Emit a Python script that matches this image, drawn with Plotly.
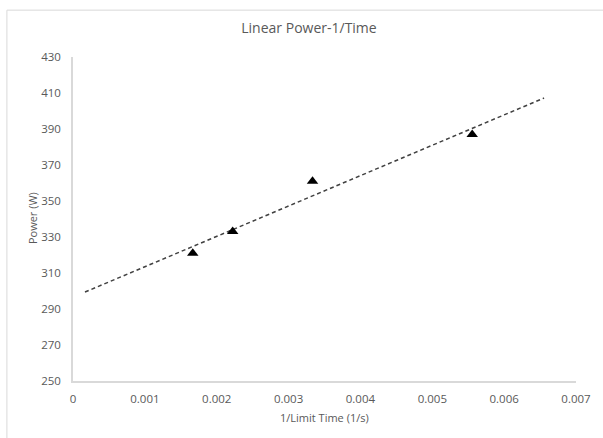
import numpy as np
import plotly.graph_objects as go

# Reciprocal limit time (1/s) and sustained power (W)
inv_time = [1 / 600, 1 / 450, 1 / 300, 1 / 180]
power = [321, 333, 361, 387]

# Linear trendline, extended 0.0015 backward and 0.001 forward
slope, intercept = np.polyfit(inv_time, power, 1)
trend_x = [min(inv_time) - 0.0015, max(inv_time) + 0.001]
trend_y = [slope * x + intercept for x in trend_x]

y_ticks = [250, 270, 290, 310, 330, 350, 370, 390, 410, 430]
x_ticks = [0, 0.001, 0.002, 0.003, 0.004, 0.005, 0.006, 0.007]
x_tick_text = ["0", "0.001", "0.002", "0.003", "0.004", "0.005", "0.006", "0.007"]

FONT = "Open Sans"
GREY = "#595959"

fig = go.Figure()
fig.add_trace(go.Scatter(
    x=trend_x, y=trend_y, mode="lines",
    line=dict(color="#404040", width=1.5, dash="4px,3px"),
    hoverinfo="skip", showlegend=False,
))
fig.add_trace(go.Scatter(
    x=inv_time, y=power, mode="markers",
    marker=dict(symbol="triangle-up", size=10, color="black"),
    showlegend=False,
))

fig.update_layout(
    width=603, height=438,
    margin=dict(l=73, r=20, t=57, b=57),
    paper_bgcolor="white", plot_bgcolor="white",
    font=dict(family=FONT, size=11.5, color=GREY),
    title=dict(
        text="Linear Power-1/Time", x=309 / 603, xanchor="center",
        y=1 - 28 / 438, yanchor="middle",
        font=dict(family=FONT, size=14, color=GREY),
    ),
    xaxis=dict(
        range=[0, 0.007], tickvals=x_ticks, ticktext=x_tick_text,
        showgrid=False, zeroline=False, showline=True,
        linecolor="#d9d9d9", linewidth=1.5, ticks="outside", ticklen=6,
        tickcolor="rgba(0,0,0,0)",
        tickfont=dict(family=FONT, size=11.5, color=GREY),
    ),
    yaxis=dict(
        range=[250, 430], tickvals=y_ticks,
        showgrid=False, zeroline=False, showline=True,
        linecolor="#d9d9d9", linewidth=1.5, ticks="outside", ticklen=8,
        tickcolor="rgba(0,0,0,0)",
        tickfont=dict(family=FONT, size=11.5, color=GREY),
    ),
    annotations=[
        dict(text="1/Limit Time (1/s)", xref="paper", yref="paper",
             x=0.5, y=-(418 - 381) / 325, xanchor="center", yanchor="middle",
             showarrow=False, font=dict(family=FONT, size=11, color=GREY)),
        dict(text="Power (W)", xref="paper", yref="paper",
             x=-(73 - 32) / 510, y=(381 - 218) / 325, xanchor="center",
             yanchor="middle", textangle=-90, showarrow=False,
             font=dict(family=FONT, size=11, color=GREY)),
    ],
    shapes=[
        dict(type="rect", xref="paper", yref="paper",
             x0=(6 - 73) / 510, x1=1.3, y0=-0.4, y1=(381 - 9) / 325,
             line=dict(color="#d9d9d9", width=1), fillcolor="rgba(0,0,0,0)",
             layer="below"),
    ],
)

fig.write_html("out.html")
